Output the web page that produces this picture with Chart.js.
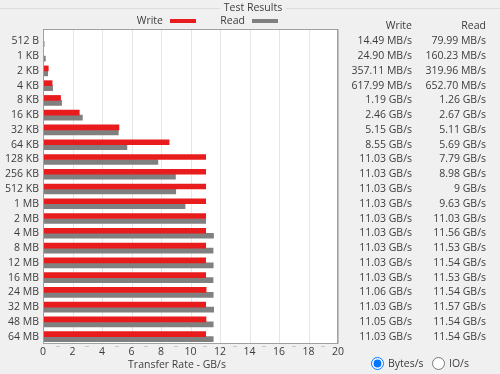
<!DOCTYPE html>
<html><head><meta charset="utf-8">
<script src="https://cdn.jsdelivr.net/npm/chart.js@4/dist/chart.umd.min.js"></script>
<style>
html,body{margin:0;padding:0;background:#f0f0f0;width:500px;height:374px;overflow:hidden;font-family:"Open Sans",sans-serif;}
#c{position:absolute;left:0;top:0;}
.opt{position:absolute;top:356px;font:10.5px "Open Sans",sans-serif;color:#3c3c3c;display:flex;align-items:center;}
.opt input{margin:0 4px 0 0;width:13px;height:13px;}
</style></head><body>
<canvas id="c" width="500" height="374"></canvas>
<label class="opt" style="left:371px"><input type="radio" name="u" checked>Bytes/s</label>
<label class="opt" style="left:432px"><input type="radio" name="u">IO/s</label>
<script>
const categories = ['512 B','1 KB','2 KB','4 KB','8 KB','16 KB','32 KB','64 KB','128 KB','256 KB','512 KB','1 MB','2 MB','4 MB','8 MB','12 MB','16 MB','24 MB','32 MB','48 MB','64 MB'];
const writeGBs = [0.01449,0.0249,0.35711,0.61799,1.19,2.46,5.15,8.55,11.03,11.03,11.03,11.03,11.03,11.03,11.03,11.03,11.03,11.06,11.03,11.05,11.03];
const readGBs  = [0.07999,0.16023,0.31996,0.6527,1.26,2.67,5.11,5.69,7.79,8.98,9,9.63,11.03,11.56,11.53,11.54,11.53,11.54,11.57,11.54,11.54];
const writeText = ['14.49 MB/s','24.90 MB/s','357.11 MB/s','617.99 MB/s','1.19 GB/s','2.46 GB/s','5.15 GB/s','8.55 GB/s','11.03 GB/s','11.03 GB/s','11.03 GB/s','11.03 GB/s','11.03 GB/s','11.03 GB/s','11.03 GB/s','11.03 GB/s','11.03 GB/s','11.06 GB/s','11.03 GB/s','11.05 GB/s','11.03 GB/s'];
const readText  = ['79.99 MB/s','160.23 MB/s','319.96 MB/s','652.70 MB/s','1.26 GB/s','2.67 GB/s','5.11 GB/s','5.69 GB/s','7.79 GB/s','8.98 GB/s','9 GB/s','9.63 GB/s','11.03 GB/s','11.56 GB/s','11.53 GB/s','11.54 GB/s','11.53 GB/s','11.54 GB/s','11.57 GB/s','11.54 GB/s','11.54 GB/s'];
const seriesNames = ['Write','Read'];
const seriesColors = ['#e81c1c','#808080'];
const xMin = 0, xMax = 20, xStep = 2;
const groupTitle = 'Test Results';
const xTitle = 'Transfer Rate - GB/s';

const FAMILY = '"Open Sans", sans-serif';
const FSIZE = 10.5;
const FONT = FSIZE + 'px ' + FAMILY;
const TXT = '#3c3c3c';

const framePlugin = {
  id: 'frame',
  beforeDraw(chart) {
    const {ctx, chartArea: a, scales: {x}} = chart;
    const top = a.top - 5;
    ctx.save();
    ctx.fillStyle = '#ffffff';
    ctx.fillRect(a.left, top, a.right - a.left, a.bottom - top);
    ctx.strokeStyle = '#e6e6e6';
    ctx.lineWidth = 1;
    for (let v = xMin + xStep; v < xMax; v += xStep) {
      const px = Math.round(x.getPixelForValue(v)) + 0.5;
      ctx.beginPath(); ctx.moveTo(px, top); ctx.lineTo(px, a.bottom); ctx.stroke();
    }
    ctx.strokeStyle = '#c8c8c8';
    for (let v = xMin + 1; v < xMax; v += 2) {
      const px = Math.round(x.getPixelForValue(v));
      ctx.beginPath(); ctx.moveTo(px - 2, a.bottom + 2.5); ctx.lineTo(px + 2, a.bottom + 2.5); ctx.stroke();
    }
    ctx.restore();
  },
  afterDatasetsDraw(chart) {
    const {ctx, chartArea: a} = chart;
    const top = a.top - 5;
    ctx.save();
    ctx.strokeStyle = '#a0a0a0';
    ctx.lineWidth = 1;
    ctx.strokeRect(Math.round(a.left) + 0.5, top + 0.5, Math.round(a.right - a.left) - 1, a.bottom - top - 1);
    ctx.strokeStyle = '#c4c4c4';
    ctx.beginPath(); ctx.moveTo(Math.round(a.right) + 0.5, top); ctx.lineTo(Math.round(a.right) + 0.5, a.bottom); ctx.stroke();
    ctx.restore();
  },
  afterDraw(chart) {
    const {ctx, scales: {y}} = chart;
    ctx.save();
    ctx.font = FONT;
    ctx.fillStyle = TXT;
    ctx.textBaseline = 'middle';
    ctx.strokeStyle = '#dcdcdc';
    ctx.lineWidth = 1;
    ctx.textAlign = 'center';
    const tw = ctx.measureText(groupTitle).width;
    ctx.beginPath();
    ctx.moveTo(0, 8.5); ctx.lineTo(253 - tw / 2 - 4, 8.5);
    ctx.moveTo(253 + tw / 2 + 4, 8.5); ctx.lineTo(500, 8.5);
    ctx.stroke();
    ctx.fillText(groupTitle, 253, 8);
    const legendX = [163, 245];
    seriesNames.forEach((n, i) => {
      ctx.textAlign = 'right';
      ctx.fillStyle = TXT;
      ctx.fillText(n, legendX[i], 21);
      ctx.fillStyle = seriesColors[i];
      ctx.fillRect(legendX[i] + 7, 19, 26, 4);
    });
    ctx.fillStyle = TXT;
    ctx.textAlign = 'center';
    ctx.fillText(xTitle, 177, 365);
    ctx.textAlign = 'right';
    ctx.fillText(seriesNames[0], 412, 26);
    ctx.fillText(seriesNames[1], 486, 26);
    categories.forEach((c, i) => {
      const py = y.getPixelForValue(i);
      ctx.fillText(writeText[i], 412, py);
      ctx.fillText(readText[i], 486, py);
    });
    ctx.restore();
  }
};

new Chart(document.getElementById('c'), {
  type: 'bar',
  data: {
    labels: categories,
    datasets: [
      {label: seriesNames[0], data: writeGBs, backgroundColor: seriesColors[0], barThickness: 5},
      {label: seriesNames[1], data: readGBs, backgroundColor: seriesColors[1], barThickness: 5}
    ]
  },
  options: {
    indexAxis: 'y',
    responsive: false,
    animation: false,
    layout: {padding: {left: 0, right: 162, top: 34, bottom: 0}},
    plugins: {legend: {display: false}, tooltip: {enabled: false}},
    scales: {
      x: {
        type: 'linear', min: xMin, max: xMax,
        ticks: {stepSize: xStep, color: TXT, font: {family: FAMILY, size: FSIZE}, padding: 2},
        grid: {display: false, drawTicks: false},
        border: {display: false},
        afterFit(s) { s.height = 30; }
      },
      y: {
        ticks: {color: TXT, font: {family: FAMILY, size: FSIZE}, padding: 4, autoSkip: false},
        grid: {display: false, drawTicks: false},
        border: {display: false},
        afterFit(s) { s.width = 43; }
      }
    }
  },
  plugins: [framePlugin]
});
</script>
</body></html>
